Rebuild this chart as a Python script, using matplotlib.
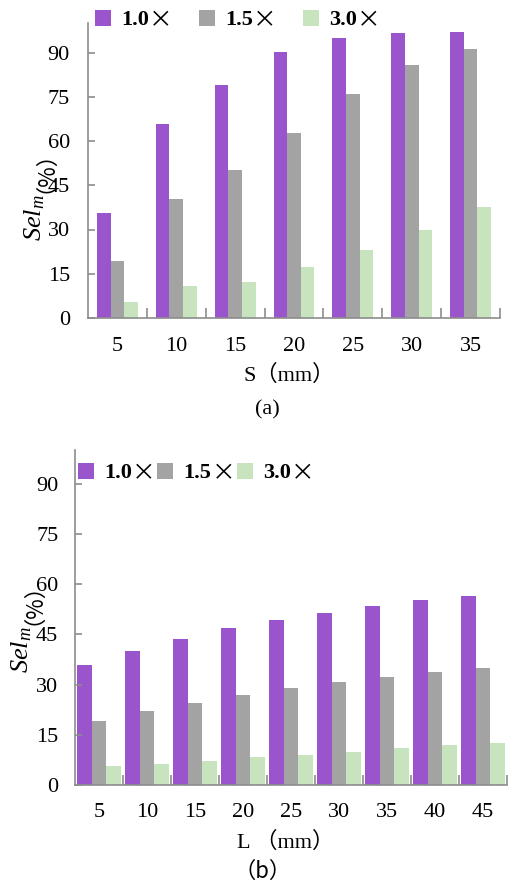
import matplotlib
matplotlib.use('Agg')
import matplotlib.pyplot as plt
import numpy as np

plt.rcParams['font.family'] = ['Liberation Serif', 'Noto Sans CJK SC']
plt.rcParams['mathtext.fontset'] = 'custom'
plt.rcParams['mathtext.rm'] = 'Liberation Serif'
plt.rcParams['mathtext.it'] = 'Liberation Serif:italic'

# ---------------- data ----------------
series_labels = ['1.0', '1.5', '3.0']
colors = ['#9A55CC', '#A3A3A3', '#C8E4BE']

s_categories = ['5', '10', '15', '20', '25', '30', '35']
s_1_0 = [35.5, 65.7, 79.1, 90.3, 95.0, 96.7, 97.1]
s_1_5 = [19.2, 40.2, 50.1, 62.8, 76.1, 85.7, 91.1]
s_3_0 = [5.3, 10.7, 12.2, 17.2, 23.0, 30.0, 37.6]

l_categories = ['5', '10', '15', '20', '25', '30', '35', '40', '45']
l_1_0 = [35.7, 40.0, 43.6, 46.8, 49.3, 51.4, 53.4, 55.1, 56.3]
l_1_5 = [19.0, 22.2, 24.5, 26.8, 28.9, 30.8, 32.3, 33.6, 34.9]
l_3_0 = [5.7, 6.4, 7.3, 8.3, 9.1, 10.0, 11.0, 11.8, 12.5]

yticks = [0, 15, 30, 45, 60, 75, 90]

# ---------------- figure ----------------
W, H = 508, 892
fig = plt.figure(figsize=(W / 100, H / 100), dpi=100)
spine_c = '#8C8C8C'
FS = 16
YFS = 19


def px_axes(l, t, r, b):
    return fig.add_axes([l / W, 1 - b / H, (r - l) / W, (b - t) / H])


def panel(ax, cats, data, bw, ypad, xpad):
    n = len(cats)
    x = np.arange(n) + 0.5
    for k, vals in enumerate(data):
        ax.bar(x + (k - 1) * bw, vals, bw, color=colors[k], label=series_labels[k],
               linewidth=0)
    ax.set_xlim(0, n)
    ax.set_ylim(0, 100)
    for s in ['top', 'right']:
        ax.spines[s].set_visible(False)
    for s in ['left', 'bottom']:
        ax.spines[s].set_color(spine_c)
        ax.spines[s].set_linewidth(1.2)
    ax.set_yticks(yticks)
    ax.set_yticklabels([str(v) for v in yticks])
    ax.tick_params(axis='y', direction='in', length=5, width=1.2, color=spine_c,
                   labelsize=FS, pad=ypad)
    ax.set_xticks(np.arange(1, n + 1))
    ax.set_xticklabels([''] * n)
    ax.tick_params(axis='x', which='major', direction='in', length=7, width=1.2,
                   color=spine_c)
    ax.set_xticks(x, minor=True)
    ax.set_xticklabels(cats, minor=True)
    ax.tick_params(axis='x', which='minor', length=0, labelsize=FS, pad=xpad)


def add_legend(ax, left_px, cy_px, colspacing):
    h, l = ax.get_legend_handles_labels()
    leg = fig.legend(h, l, loc='center left', bbox_to_anchor=(left_px / W, 1 - cy_px / H),
                     ncol=3, frameon=False,
                     prop={'family': 'Liberation Serif', 'weight': 'bold', 'size': FS},
                     handlelength=0.72, handleheight=0.72, handletextpad=0.45,
                     columnspacing=colspacing, borderpad=0, borderaxespad=0)
    return leg


def add_ylabel(xb_px, start_px, xc_px):
    # two rotated pieces: italic Sel_m, then full-width (%)
    t1 = fig.text(xb_px / W, 1 - start_px / H, r'$\mathit{Sel}_{\mathit{m}}$', rotation=90,
                  rotation_mode='anchor', ha='left', va='baseline', fontsize=YFS)
    t2 = fig.text(xc_px / W, 0.5, '（%）', rotation=90,
                  ha='center', va='bottom', fontsize=FS,
                  family=['Noto Sans CJK SC'])
    return t1, t2


# panel (a)
ax1 = px_axes(88, 23, 500, 318)
panel(ax1, s_categories, [s_1_0, s_1_5, s_3_0], 0.232, 13, 14)
yl1 = add_ylabel(41, 241, 34)
leg1 = add_legend(ax1, 95, 20, 2.25)
fig.text(289 / W, 1 - 375 / H, 'S（mm）', ha='center', va='center', fontsize=FS)
fig.text(267 / W, 1 - 410 / H, '(a)', ha='center', va='center', fontsize=FS)

# panel (b)
ax2 = px_axes(75, 450, 507, 785)
panel(ax2, l_categories, [l_1_0, l_1_5, l_3_0], 0.30, 12, 13)
yl2 = add_ylabel(28, 673, 22)
leg2 = add_legend(ax2, 78, 473, 1.15)
fig.text(286 / W, 1 - 842 / H, 'L （mm）', ha='center', va='center', fontsize=FS)
fig.text(263 / W, 1 - 871 / H, '（b）', ha='center', va='center', fontsize=FS,
         family=['Noto Sans CJK SC', 'Liberation Serif'])

# layout of rotated y labels and legend multiplication signs
fig.canvas.draw()
r = fig.canvas.get_renderer()
for t1, t2 in (yl1, yl2):
    bb1 = t1.get_window_extent(r)
    t2.set_y((bb1.y1 + 1) / H)

for leg in (leg1, leg2):
    for t in leg.get_texts():
        bb = t.get_window_extent(r)
        fig.text(bb.x1 / W, ((bb.y0 + bb.y1) / 2) / H, '×', family='Noto Sans CJK SC',
                 fontsize=FS + 1, ha='left', va='center')

fig.savefig('out.png', dpi=100)
